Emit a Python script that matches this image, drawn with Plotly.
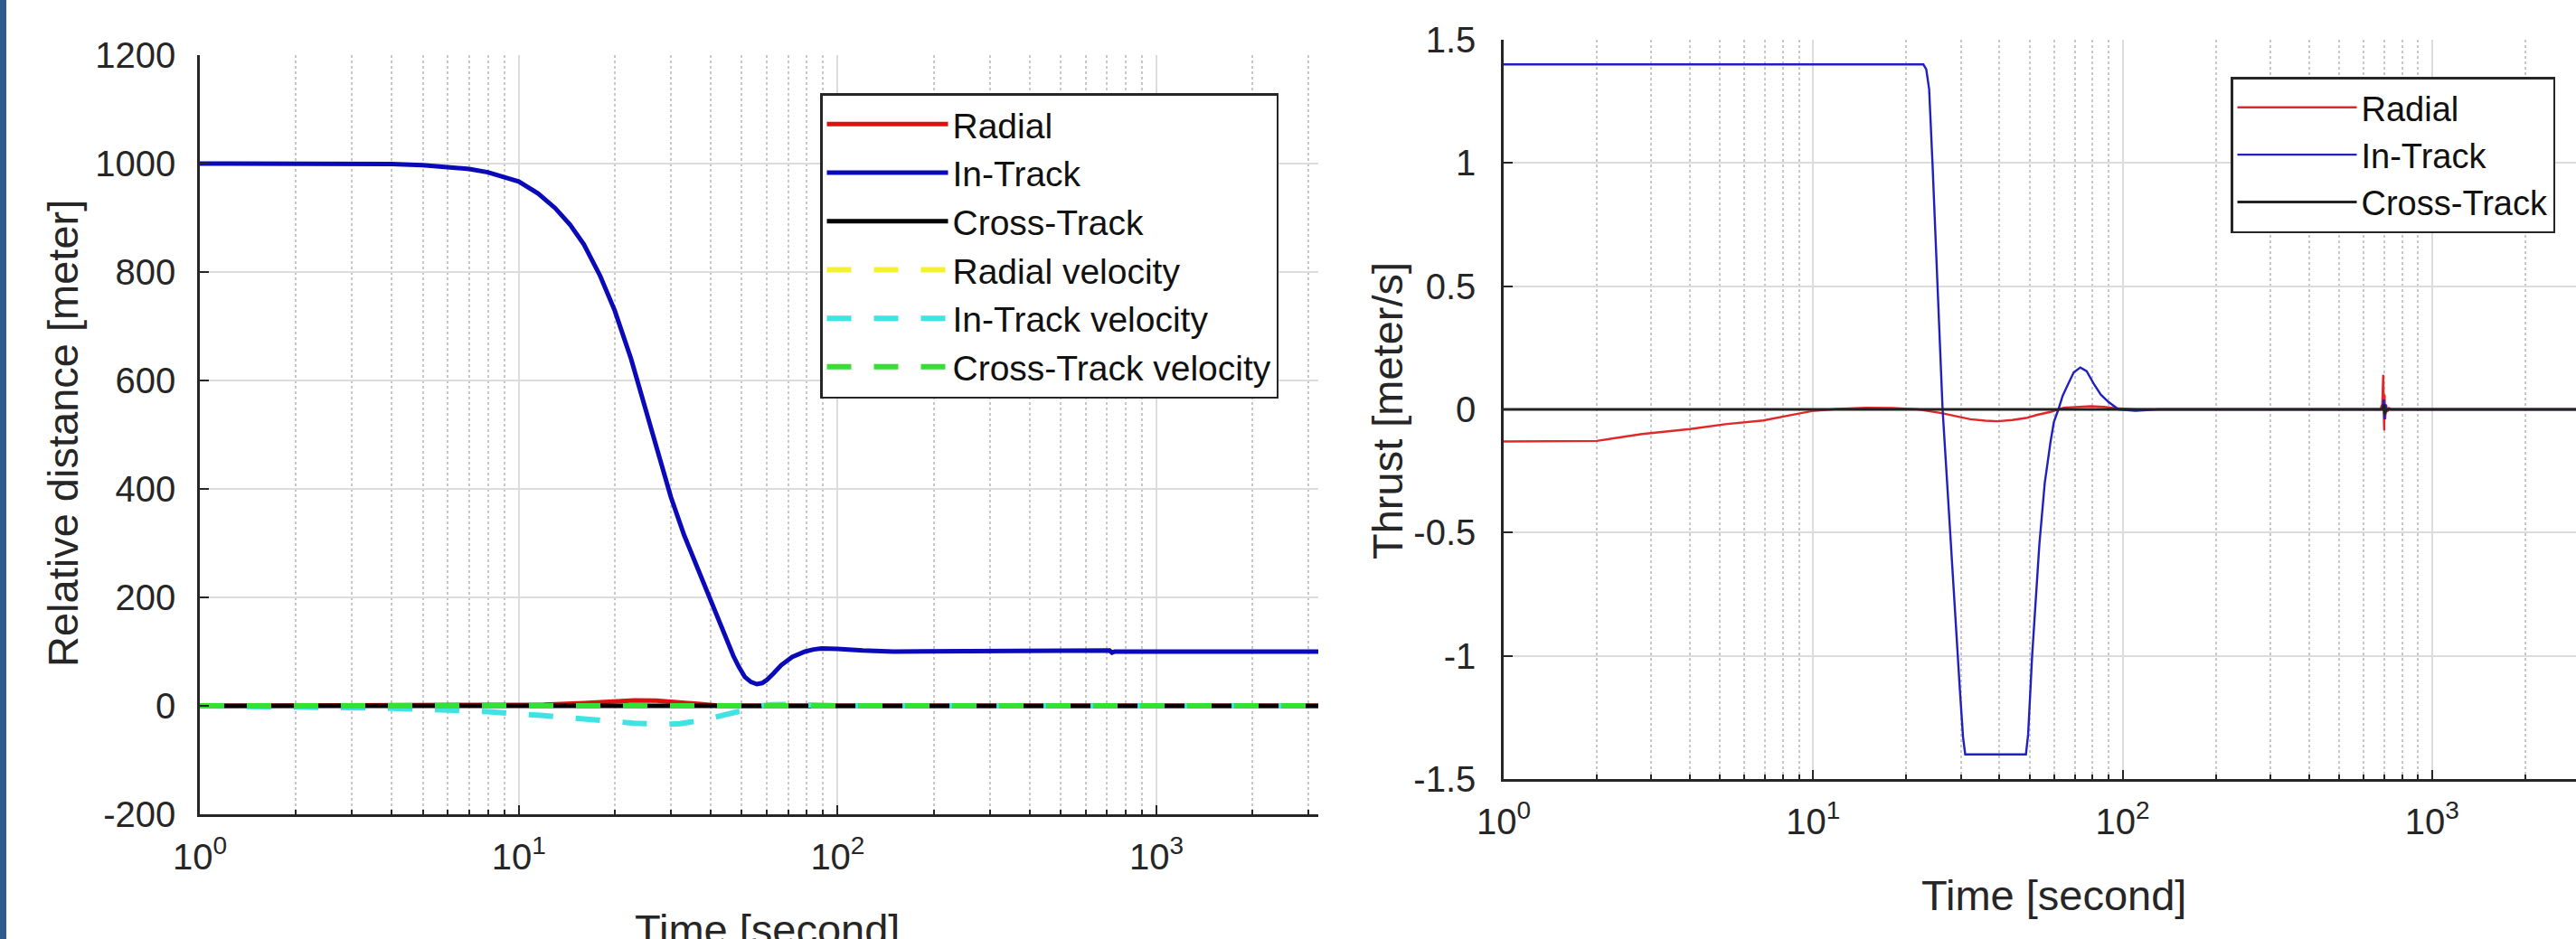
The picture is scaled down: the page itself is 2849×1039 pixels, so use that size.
import math
import plotly.graph_objects as go

W, H = 2849, 1039

# ---------------- Left panel: relative distance ----------------
t_radial = [1, 5, 8.7, 12, 16, 20, 23, 27, 32, 37, 42, 50, 3215]
radial_pos = [0, 0, 0.3, 2, 5, 8.5, 10, 9.5, 7, 3.5, 0.5, 0, 0]

t_intrack = [1, 3, 4, 5, 6, 7, 8, 10, 11.5, 13, 14.5, 16, 18, 20, 22.5, 25, 27.5, 30, 33, 35, 38.4,
             41.9, 45, 47.1, 49, 51.2, 53.5, 55.8, 58, 60, 63, 66.5, 72, 79, 84, 89, 100, 110, 120,
             150, 300, 700, 712, 725, 740, 3215]
intrack_pos = [1000, 1000, 999, 997, 994, 990, 984, 967, 945, 918, 887, 851, 793, 729, 640, 547, 465,
               385, 315, 278, 220, 165, 124, 92, 72, 53, 44, 40, 42, 48, 60, 75, 90, 100, 104, 106,
               105, 103, 102, 100, 100, 100, 102, 98, 100, 100]

t_cross = [1, 3215]
cross_pos = [0, 0]

t_radial_vel = [1, 10, 20, 30, 40, 50, 3215]
radial_vel = [0, 0.5, 0.8, 0, -0.6, 0, 0]

t_intrack_vel = [1, 2, 4, 6, 8, 12, 16, 20, 23, 28, 32, 38, 45, 50, 56, 62, 70, 85, 100, 3215]
intrack_vel = [0, -1.5, -4.5, -8, -11, -18, -25, -29, -32, -34, -33, -26, -17, -9, -1, 2, 2.5, 1, 0, 0]

t_cross_vel = [1, 3215]
cross_vel = [0, 0]

# ---------------- Right panel: thrust ----------------
t_thr_radial = [1, 2, 2.8, 4, 5.2, 6.9, 8.3, 9.9, 12, 14.8, 18, 21.9, 26, 29, 32.2, 36, 39.5, 44,
                48.7, 53, 58.5, 64.5, 72, 79, 87, 95, 110,
                680, 690, 695, 698, 700, 702, 705, 710, 715, 725, 740, 3215]
thr_radial = [-0.13, -0.128, -0.10, -0.08, -0.06, -0.045, -0.025, -0.007, 0.002, 0.007, 0.006, 0.0,
              -0.015, -0.028, -0.04, -0.046, -0.048, -0.043, -0.035, -0.022, -0.01, 0.007, 0.011,
              0.013, 0.01, 0.005, 0,
              0, 0.02, 0.14, -0.02, -0.085, 0.06, -0.04, 0.02, -0.01, 0.005, 0, 0]

t_thr_intrack = [1, 22.7, 23.2, 23.7, 24.3, 26.2, 29.8, 30.5, 31, 48.7, 49.5, 51, 53.8, 56, 58.5, 60,
                 62, 64, 66.5, 69.5, 73, 76.5, 81, 85, 90, 97, 110, 130,
                 690, 698, 702, 706, 712, 3215]
thr_intrack = [1.4, 1.4, 1.38, 1.3, 1.0, 0, -1.14, -1.33, -1.4, -1.4, -1.32, -1.0, -0.55, -0.3, -0.13,
               -0.05, 0, 0.055, 0.10, 0.15, 0.17, 0.155, 0.10, 0.06, 0.03, 0, -0.006, 0,
               0, 0.04, -0.04, 0.02, 0, 0]

t_thr_cross = [1, 690, 699, 703, 710, 3215]
thr_cross = [0, 0, 0.02, -0.02, 0, 0]

# tick labels
y1_ticks = [-200, 0, 200, 400, 600, 800, 1000, 1200]
y1_text = ["-200", "0", "200", "400", "600", "800", "1000", "1200"]
y2_ticks = [-1.5, -1, -0.5, 0, 0.5, 1, 1.5]
y2_text = ["-1.5", "-1", "-0.5", "0", "0.5", "1", "1.5"]
x_ticks = [1, 10, 100, 1000]
x_text = ["10<sup>0</sup>", "10<sup>1</sup>", "10<sup>2</sup>", "10<sup>3</sup>"]
x_minor = [m * 10 ** k for k in range(4) for m in range(2, 10) if m * 10 ** k < 3300]

FONT = "Arial, 'Liberation Sans', Helvetica, sans-serif"
AX = "#262626"
DASH = "27px,25px"

fig = go.Figure()

def add(x, y, name, color, width, dash, xa, ya, legend):
    fig.add_trace(go.Scatter(x=x, y=y, name=name, mode="lines",
                             line=dict(color=color, width=width, dash=dash),
                             xaxis=xa, yaxis=ya, legend=legend))

add(t_radial, radial_pos, "Radial", "#e01010", 5, "solid", "x", "y", "legend")
add(t_intrack, intrack_pos, "In-Track", "#0a0ab8", 5, "solid", "x", "y", "legend")
add(t_cross, cross_pos, "Cross-Track", "#000000", 5, "solid", "x", "y", "legend")
add(t_radial_vel, radial_vel, "Radial velocity", "#f2f230", 6, DASH, "x", "y", "legend")
add(t_intrack_vel, intrack_vel, "In-Track velocity", "#3fe3e3", 6, DASH, "x", "y", "legend")
add(t_cross_vel, cross_vel, "Cross-Track velocity", "#33e033", 6, DASH, "x", "y", "legend")

add(t_thr_radial, thr_radial, "Radial", "#e02828", 2.4, "solid", "x2", "y2", "legend2")
add(t_thr_intrack, thr_intrack, "In-Track", "#2020c0", 2.4, "solid", "x2", "y2", "legend2")
add(t_thr_cross, thr_cross, "Cross-Track", "#222222", 3, "solid", "x2", "y2", "legend2")

def xaxis(domain, rng, anchor):
    return dict(domain=domain, type="log", range=rng, anchor=anchor, automargin=False,
                tickmode="array", tickvals=x_ticks, ticktext=x_text,
                showline=True, linecolor=AX, linewidth=2.5, mirror=False,
                ticks="inside", ticklen=10, tickwidth=2, tickcolor=AX,
                showgrid=True, gridcolor="#dcdcdc", gridwidth=2, zeroline=False,
                tickfont=dict(family=FONT, size=40, color=AX), ticklabelstandoff=10,
                minor=dict(tickmode="array", tickvals=x_minor, ticks="inside", ticklen=5,
                           tickwidth=1.5, tickcolor=AX, showgrid=True, gridcolor="#c8c8c8",
                           griddash="dot", gridwidth=1.5))

def yaxis(domain, rng, tv, tt, anchor, standoff):
    return dict(domain=domain, range=rng, anchor=anchor, automargin=False,
                tickmode="array", tickvals=tv, ticktext=tt,
                showline=True, linecolor=AX, linewidth=2.5, mirror=False,
                ticks="inside", ticklen=10, tickwidth=2, tickcolor=AX,
                showgrid=True, gridcolor="#dcdcdc", gridwidth=2, zeroline=False,
                tickfont=dict(family=FONT, size=40, color=AX), ticklabelstandoff=standoff)

fig.update_layout(
    width=W, height=H, margin=dict(l=0, r=0, t=0, b=0, pad=0, autoexpand=False),
    paper_bgcolor="white", plot_bgcolor="white",
    font=dict(family=FONT, color=AX),
    xaxis=xaxis([221 / W, 1458 / W], [0, math.log10(3215)], "y"),
    yaxis=yaxis([(H - 901) / H, (H - 61) / H], [-200, 1200], y1_ticks, y1_text, "x", 16),
    xaxis2=xaxis([1663 / W, 1.0], [0, (2849 - 1663) / 342.3], "y2"),
    yaxis2=yaxis([(H - 862) / H, (H - 44) / H], [-1.5, 1.5], y2_ticks, y2_text, "x2", 20),
    legend=dict(x=907 / W, y=1 - 103 / H, xanchor="left", yanchor="top", bgcolor="white",
                bordercolor=AX, borderwidth=2.5, font=dict(family=FONT, size=39, color="#111"),
                itemwidth=134, tracegroupgap=0),
    legend2=dict(x=2467 / W, y=1 - 85 / H, xanchor="left", yanchor="top", bgcolor="white",
                 bordercolor=AX, borderwidth=2.5, font=dict(family=FONT, size=38, color="#111"),
                 itemwidth=132, tracegroupgap=0),
    showlegend=True,
)

# decorative blue strip at the left edge
fig.add_shape(type="rect", xref="paper", yref="paper", x0=0, x1=7 / W, y0=0, y1=1,
              fillcolor="#2e5b8e", line=dict(width=0), layer="above")

title_font = dict(family=FONT, size=47, color=AX)
fig.add_annotation(text="Relative distance [meter]", xref="paper", yref="paper",
                   x=69 / W, y=1 - 480 / H, textangle=-90, showarrow=False,
                   xanchor="center", yanchor="middle", font=title_font)
fig.add_annotation(text="Time [second]", xref="paper", yref="paper",
                   x=849 / W, y=1 - 1000 / H, showarrow=False,
                   xanchor="center", yanchor="top", font=title_font)
fig.add_annotation(text="Thrust [meter/s]", xref="paper", yref="paper",
                   x=1534 / W, y=1 - 455 / H, textangle=-90, showarrow=False,
                   xanchor="center", yanchor="middle", font=title_font)
fig.add_annotation(text="Time [second]", xref="paper", yref="paper",
                   x=2271 / W, y=1 - 962 / H, showarrow=False,
                   xanchor="center", yanchor="top", font=title_font)

fig.write_html("out.html", config={"displayModeBar": False},
               post_script="document.body.style.margin='0';document.body.style.overflow='hidden';")
